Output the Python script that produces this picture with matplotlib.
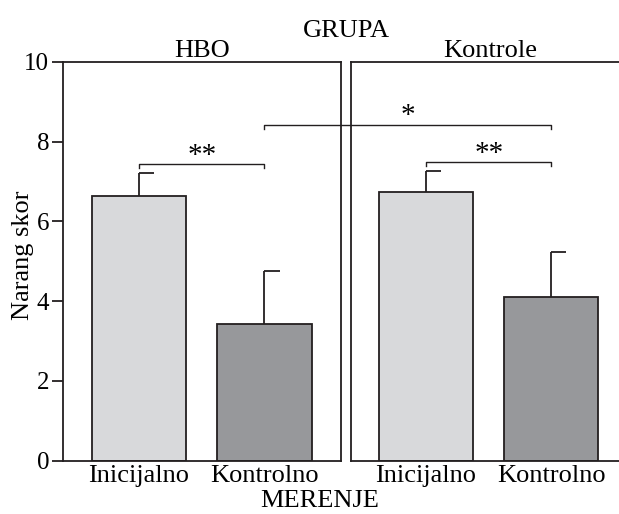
import matplotlib
matplotlib.use("Agg")
import matplotlib.pyplot as plt

plt.rcParams['font.family'] = ['Liberation Serif', 'DejaVu Serif']

# data
groups = ['HBO', 'Kontrole']
categories = ['Inicijalno', 'Kontrolno']
means = {'HBO': [6.64, 3.44], 'Kontrole': [6.75, 4.10]}
errors = {'HBO': [0.57, 1.31], 'Kontrole': [0.52, 1.13]}
bar_colors = ['#d8d9db', '#97989b']
# significance brackets: (group, y, label)
within_sig = [('HBO', 7.44, '**'), ('Kontrole', 7.49, '**')]
between_sig = (8.43, '*')

edge = '#231f20'
lw = 1.3
fs = 19

fig = plt.figure(figsize=(6.19, 5.14), dpi=100)
ax1 = fig.add_axes([0.1018, 0.1037, 0.4491, 0.7757])
ax2 = fig.add_axes([0.5670, 0.1037, 0.4491, 0.7757])
ax2.patch.set_visible(False)
axes = {'HBO': ax1, 'Kontrole': ax2}

x = [0, 1]
for g in groups:
    ax = axes[g]
    ax.bar(x, means[g], width=0.75, color=bar_colors, edgecolor=edge, linewidth=lw, zorder=2)
    for xi, m, e in zip(x, means[g], errors[g]):
        ax.vlines(xi, m, m + e, color=edge, linewidth=lw, zorder=1)
        ax.hlines(m + e, xi, xi + 0.12, color=edge, linewidth=lw)
    ax.set_ylim(0, 10)
    ax.set_xticks(x)
    ax.set_xticklabels(categories, fontsize=fs)
    ax.tick_params(axis='x', length=0, pad=3)
    for s in ax.spines.values():
        s.set_linewidth(lw)
        s.set_color(edge)
    ax.set_title(g, fontsize=fs, pad=1)

ax1.set_xlim(-0.606, 1.61)
ax2.set_xlim(-0.598, 1.618)
ax2.spines['right'].set_visible(False)

ax1.set_yticks([0, 2, 4, 6, 8, 10])
ax1.tick_params(axis='y', length=8, width=lw, color=edge, labelsize=18, pad=2)
ax2.set_yticks([])
ax1.set_ylabel('Narang skor', fontsize=fs)
ax1.yaxis.set_label_coords(-0.105, 0.515)

# within group brackets
for g, yb, lab in within_sig:
    ax = axes[g]
    ax.plot([0, 0, 1, 1], [yb - 0.1, yb, yb, yb - 0.1], color=edge, linewidth=1.0, clip_on=False)
    ax.text(0.5, yb - 0.12, lab, ha='center', va='bottom', fontsize=21)

# between group bracket (HBO Kontrolno -> Kontrole Kontrolno)
yb, lab = between_sig
px = ax2.transData.transform((1, yb))
x_end = ax1.transData.inverted().transform(px)[0]
ax1.plot([1, 1, x_end, x_end], [yb - 0.12, yb, yb, yb - 0.12], color=edge, linewidth=1.0, clip_on=False, zorder=5)
ax1.text((1 + x_end) / 2, yb - 0.12, lab, ha='center', va='bottom', fontsize=21, zorder=5)

fig.text(0.559, 0.939, 'GRUPA', ha='center', va='center', fontsize=fs)
fig.text(0.517, 0.025, 'MERENJE', ha='center', va='center', fontsize=fs)

fig.savefig('out.png', dpi=100)
